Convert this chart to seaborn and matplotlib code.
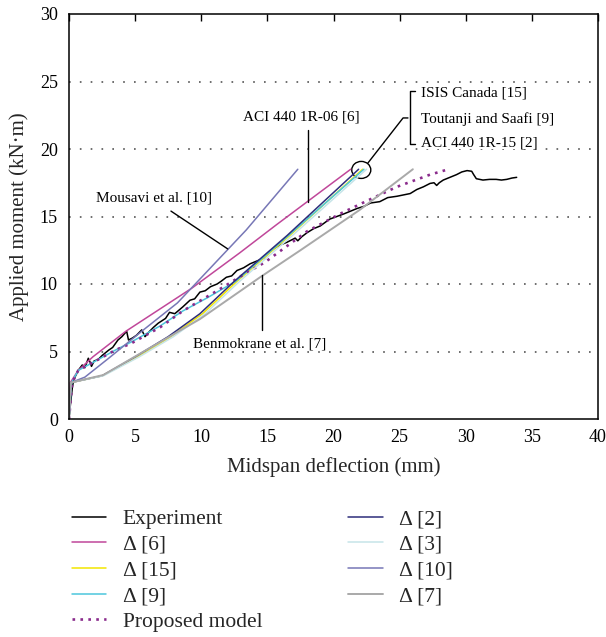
import matplotlib
matplotlib.use("Agg")
import matplotlib.pyplot as plt
from matplotlib.patches import Ellipse
import seaborn as sns
import pandas as pd

# ---- measured load-deflection response (midspan deflection mm, moment kN·m) ----
exp_defl = [0, 0.1, 0.25, 0.35, 0.7, 1.0, 1.2, 1.46, 1.6, 1.7, 1.9, 2.2, 2.5, 3.0, 3.3,
            3.7, 4.0, 4.36, 4.5, 4.8, 5.1, 5.5, 5.75, 6.1, 6.4, 6.75, 7.3, 7.6, 8.0, 8.6,
            9.15, 9.5, 9.9, 10.3, 10.7, 11.2, 11.5, 11.9, 12.3, 12.7, 13.2, 13.7, 14.2,
            14.7, 15.0, 15.45, 16.0, 16.5, 17.1, 17.3, 17.6, 18.0, 18.5, 19.0, 19.7,
            20.25, 20.8, 21.3, 21.8, 22.3, 22.8, 23.5, 24.1, 24.8, 25.3, 25.8, 26.3,
            26.8, 27.3, 27.6, 27.8, 28.0, 28.3, 28.8, 29.3, 29.7, 30.1, 30.45, 30.6,
            30.8, 31.3, 31.8, 32.3, 32.7, 33.1, 33.5, 33.85]
exp_moment = [0, 1.0, 2.3, 2.9, 3.6, 4.0, 3.8, 4.5, 4.2, 3.9, 4.3, 4.4, 4.7, 5.1, 5.3,
              5.85, 6.1, 6.5, 5.85, 6.0, 6.2, 6.6, 6.1, 6.5, 6.8, 7.1, 7.45, 7.9, 7.8, 8.3,
              8.8, 8.9, 9.4, 9.5, 9.8, 10.0, 10.2, 10.5, 10.6, 11.0, 11.2, 11.5, 11.7,
              11.9, 12.2, 12.6, 12.9, 13.1, 13.4, 13.2, 13.5, 13.8, 14.1, 14.3, 14.8,
              15.0, 15.2, 15.4, 15.6, 15.75, 16.0, 16.1, 16.4, 16.5, 16.6, 16.7, 17.0,
              17.2, 17.45, 17.5, 17.3, 17.5, 17.7, 17.9, 18.1, 18.3, 18.4, 18.35, 18.1,
              17.8, 17.7, 17.75, 17.75, 17.7, 17.75, 17.85, 17.9]

# ---- predicted responses ----
aci06_defl = [0, 0.1, 0.7, 1.8, 4.3, 6.8, 9.3, 12.9, 15.7, 21.3]
aci06_moment = [0, 2.7, 3.6, 4.6, 6.5, 8.1, 9.7, 12.3, 14.4, 18.5]

isis_defl = [0, 0.15, 2.5, 5.2, 7.7, 10.1, 12.7, 16.7, 22.2]
isis_moment = [0, 2.7, 3.2, 4.6, 6.1, 7.8, 10.2, 13.6, 18.5]

toutanji_defl = [0, 0.2, 0.7, 2.2, 3.5, 4.7, 6.9, 8.6, 10.5, 12.6, 16.6, 22.3]
toutanji_moment = [0, 2.7, 3.6, 4.4, 5.1, 5.7, 6.9, 8.0, 9.0, 10.2, 13.6, 18.5]

proposed_defl = [0, 0.25, 0.7, 2.2, 3.5, 4.7, 6.9, 8.6, 11.2, 13.2, 14.8, 18.0, 20.5,
                 22.4, 24.8, 27.3, 28.7]
proposed_moment = [0, 2.7, 3.6, 4.4, 5.1, 5.6, 6.8, 8.0, 9.5, 10.7, 11.6, 13.9, 15.2,
                   16.1, 17.2, 18.1, 18.5]

aci15_defl = [0, 0.15, 2.5, 5.0, 7.5, 9.9, 12.5, 16.5, 21.9]
aci15_moment = [0, 2.7, 3.2, 4.6, 6.1, 7.8, 10.2, 13.6, 18.5]

ref3_defl = [0, 0.15, 2.6, 5.3, 7.9, 10.3, 12.9, 16.9, 22.5]
ref3_moment = [0, 2.7, 3.2, 4.6, 6.1, 7.8, 10.2, 13.6, 18.5]

mousavi_defl = [0, 0.15, 1.2, 3.0, 5.5, 8.2, 10.8, 13.4, 17.3]
mousavi_moment = [0, 2.7, 3.1, 4.5, 6.5, 8.6, 11.3, 14.0, 18.5]

benmokrane_defl = [0, 0.15, 2.6, 6.0, 9.9, 14.45, 17.5, 22.0, 26.0]
benmokrane_moment = [0, 2.7, 3.26, 5.2, 7.4, 10.5, 12.5, 15.5, 18.5]

series_labels = ["Experiment", "Δ [6]", "Δ [15]", "Δ [9]", "Proposed model",
                 "Δ [2]", "Δ [3]", "Δ [10]", "Δ [7]"]
x_ticks = [0, 5, 10, 15, 20, 25, 30, 35, 40]
y_ticks = [0, 5, 10, 15, 20, 25, 30]

series = [
    (exp_defl, exp_moment, "#000000", "-", 1.1),
    (aci06_defl, aci06_moment, "#c0479a", "-", 1.1),
    (isis_defl, isis_moment, "#f2e600", "-", 1.1),
    (toutanji_defl, toutanji_moment, "#4cc6dc", "-", 1.1),
    (proposed_defl, proposed_moment, "#8a2b8c", (0, (1, 2.0)), 1.9),
    (aci15_defl, aci15_moment, "#2e2e7a", "-", 1.1),
    (ref3_defl, ref3_moment, "#c6e4e8", "-", 1.1),
    (mousavi_defl, mousavi_moment, "#7777b6", "-", 1.1),
    (benmokrane_defl, benmokrane_moment, "#a9a9a9", "-", 1.4),
]

sns.set_theme(style="white")
plt.rcParams["font.family"] = ["Liberation Serif", "DejaVu Serif"]
plt.rcParams["mathtext.fontset"] = "dejavuserif"

fig = plt.figure(figsize=(6.06, 6.37), dpi=100)
ax = fig.add_axes([69 / 606, 1 - 419 / 637, (598 - 69) / 606, (419 - 14) / 637])

for (xs, ys, color, ls, lw), label in zip(series, series_labels):
    df = pd.DataFrame({"defl": xs, "moment": ys})
    sns.lineplot(data=df, x="defl", y="moment", ax=ax, color=color, linestyle=ls,
                 linewidth=lw, sort=False, estimator=None, label=label)

ax.set_xlim(0, 40)
ax.set_ylim(0, 30)
ax.set_xticks(x_ticks)
ax.set_yticks(y_ticks)
for yv in y_ticks[1:-1]:
    ax.axhline(yv, color="#555555", linewidth=1.2, linestyle=(0, (1, 5.5)), zorder=0)

for side in ["left", "right", "top", "bottom"]:
    ax.spines[side].set_visible(True)
    ax.spines[side].set_color("black")
    ax.spines[side].set_linewidth(1.1)

ax.tick_params(axis="both", direction="in", length=5, width=1.0, labelsize=13,
               colors="black")
ax.tick_params(axis="x", pad=7, top=True)
ax.tick_params(axis="y", pad=8)

ax.set_xlabel("Midspan deflection (mm)", fontsize=15)
ax.set_ylabel("Applied moment (kN·m)", fontsize=15)
ax.xaxis.set_label_coords(0.5, -0.093)
ax.yaxis.set_label_coords(-0.076, 0.5)

# ---- curve labels ----
txt = dict(fontsize=11, color="black")
ax.text(17.6, 22.4, "ACI 440 1R-06 [6]", ha="center", va="center", **txt)
ax.plot([18.07, 18.07], [21.4, 16.1], color="black", lw=1.0)

ax.text(6.45, 16.4, "Mousavi et al. [10]", ha="center", va="center", **txt)
ax.plot([7.71, 12.0], [15.4, 12.6], color="black", lw=1.0)

ax.text(14.4, 5.56, "Benmokrane et al. [7]", ha="center", va="center", **txt)
ax.plot([14.6, 14.6], [10.67, 6.6], color="black", lw=1.0)

ax.add_patch(Ellipse((22.1, 18.45), 1.44, 1.26, fill=False, edgecolor="black", lw=1.0))
ax.plot([22.6, 25.26, 25.63], [18.96, 22.3, 22.3], color="black", lw=1.0)
ax.plot([26.16, 25.78, 25.78, 26.16], [24.3, 24.3, 20.35, 20.35], color="black", lw=1.0)
ax.text(26.6, 24.15, "ISIS Canada [15]", ha="left", va="center", **txt)
ax.text(26.6, 22.25, "Toutanji and Saafi [9]", ha="left", va="center", **txt)
ax.text(26.6, 20.45, "ACI 440 1R-15 [2]", ha="left", va="center",
        bbox=dict(facecolor="white", edgecolor="none", pad=0), **txt)

handles, labels = ax.get_legend_handles_labels()
ax.get_legend().remove()
fig.legend(handles, labels, loc="upper left", bbox_to_anchor=(72 / 606, 1 - 509 / 637),
           ncol=2, frameon=False, fontsize=15.5, handlelength=1.6, handletextpad=0.75,
           columnspacing=4.0, labelspacing=0.26, borderpad=0, borderaxespad=0)

fig.savefig("out.png", dpi=100)
